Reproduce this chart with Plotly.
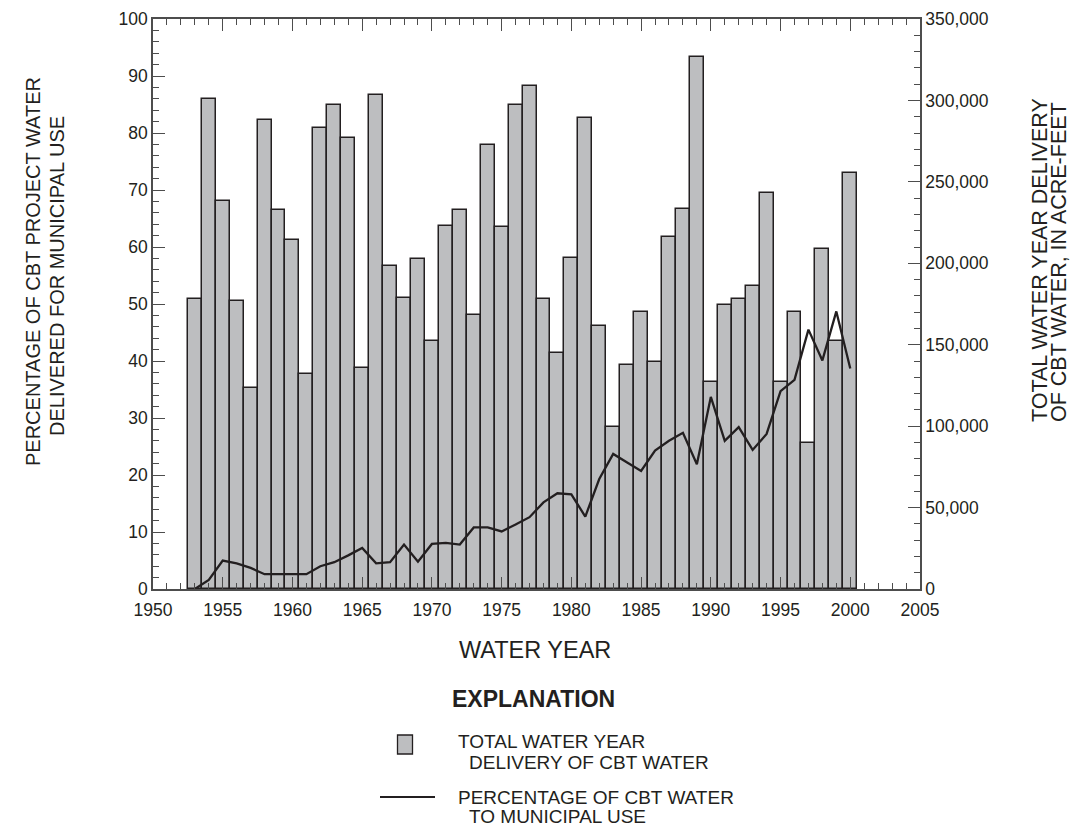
import plotly.graph_objects as go

years = list(range(1953, 2001))

# Total water-year delivery of CBT water, acre-feet
delivery_af = [
    177800, 301000, 238000, 177100, 123200, 287700, 232800, 214200, 132300, 283000,
    297200, 276900, 135800, 303500, 198100, 178500, 202700, 152300, 222600, 232800,
    168000, 272700, 222300, 297500, 309100, 177800, 144900, 203400, 289500, 161400,
    99400, 137600, 169800, 139300, 216000, 233500, 326600, 127100, 174300, 177800,
    185900, 242900, 127100, 169800, 89900, 208600, 152300, 255500,
]

# Percentage of CBT water to municipal use
pct_municipal = [
    0.0, 1.6, 5.0, 4.5, 3.7, 2.6, 2.6, 2.6, 2.6, 4.0,
    4.7, 5.9, 7.2, 4.5, 4.7, 7.8, 4.8, 7.9, 8.1, 7.8,
    10.8, 10.8, 10.1, 11.3, 12.6, 15.2, 16.8, 16.6, 12.7, 19.3,
    23.7, 22.2, 20.7, 24.3, 26.0, 27.4, 21.9, 33.7, 26.0, 28.4,
    24.4, 27.2, 34.7, 36.7, 45.5, 40.1, 48.7, 38.7,
]

FONT = "Liberation Sans, Arial, Helvetica, sans-serif"
INK = "#231f20"
AXC = "#4d4d4d"
BARFILL = "#bdbec0"

fig = go.Figure()
fig.add_trace(go.Bar(
    x=years, y=delivery_af, width=1.0,
    marker=dict(color=BARFILL, line=dict(color=INK, width=1.5)),
    yaxis="y", showlegend=False, name="TOTAL WATER YEAR DELIVERY OF CBT WATER",
))
fig.add_trace(go.Scatter(
    x=years, y=pct_municipal, mode="lines",
    line=dict(color=INK, width=2.3),
    yaxis="y2", showlegend=False, name="PERCENTAGE OF CBT WATER TO MUNICIPAL USE",
))

W, H = 1071, 829
L, T = 153, 19
pw, ph = 767, 570
R, B = W - L - pw, H - T - ph

def px(x):
    return (x - L) / pw

def py(y):
    return (T + ph - y) / ph

TICKF = dict(size=17.5, color=INK, family=FONT)

fig.update_layout(
    width=W, height=H,
    margin=dict(l=L, r=R, t=T, b=B, autoexpand=False),
    paper_bgcolor="white", plot_bgcolor="white",
    font=dict(family=FONT, color=INK, size=17),
    bargap=0,
    xaxis=dict(
        range=[1950, 2005], tickmode="linear", tick0=1950, dtick=5,
        ticks="inside", ticklen=12, tickwidth=1.3, tickcolor=AXC,
        minor=dict(dtick=1, ticks="inside", ticklen=6, tickwidth=1.2, tickcolor=AXC),
        showline=True, linecolor=AXC, linewidth=1.5, mirror="ticks",
        showgrid=False, zeroline=False, automargin=False,
        tickfont=TICKF, ticklabelstandoff=4,
    ),
    yaxis=dict(
        side="right", range=[0, 350000], tickmode="linear", tick0=0, dtick=50000,
        tickformat=",d",
        ticks="inside", ticklen=12, tickwidth=1.3, tickcolor=AXC,
        minor=dict(dtick=10000, ticks="inside", ticklen=6, tickwidth=1.2, tickcolor=AXC),
        showline=True, linecolor=AXC, linewidth=1.5,
        showgrid=False, zeroline=False, automargin=False,
        tickfont=TICKF,
    ),
    yaxis2=dict(
        overlaying="y", side="left", range=[0, 100], tickmode="linear", tick0=0, dtick=10,
        ticks="inside", ticklen=12, tickwidth=1.3, tickcolor=AXC,
        minor=dict(dtick=2, ticks="inside", ticklen=6, tickwidth=1.2, tickcolor=AXC),
        showline=True, linecolor=AXC, linewidth=1.5,
        showgrid=False, zeroline=False, automargin=False,
        tickfont=TICKF,
    ),
)

def note(text, x, y, size, xanchor="left", angle=0):
    return dict(text=text, x=px(x), y=py(y), xref="paper", yref="paper",
                xanchor=xanchor, yanchor="middle", showarrow=False, textangle=angle,
                borderpad=0, font=dict(size=size, color=INK, family=FONT))

# Explanation (legend) drawn as layout decoration
shapes = [
    dict(type="rect", xref="paper", yref="paper",
         x0=px(397.5), x1=px(412.5), y0=py(754), y1=py(735),
         fillcolor=BARFILL, line=dict(color=INK, width=1.3)),
    dict(type="line", xref="paper", yref="paper",
         x0=px(380), x1=px(435), y0=py(797), y1=py(797),
         line=dict(color=INK, width=2)),
]
annotations = [
    note("WATER YEAR", 534.5, 650, 23.5, xanchor="center"),
    note("<b>EXPLANATION</b>", 533, 699, 23, xanchor="center"),
    note("TOTAL WATER YEAR", 457, 741, 19),
    note("DELIVERY OF CBT WATER", 468, 762, 19),
    note("PERCENTAGE OF CBT WATER", 457, 797, 19),
    note("TO MUNICIPAL USE", 468, 816, 19),
    note("PERCENTAGE OF CBT PROJECT WATER", 33, 272, 20, xanchor="center", angle=-90),
    note("DELIVERED FOR MUNICIPAL USE", 57, 276, 20, xanchor="center", angle=-90),
    note("TOTAL WATER YEAR DELIVERY", 1040, 260, 21.5, xanchor="center", angle=-90),
    note("OF CBT WATER, IN ACRE-FEET", 1059, 262, 21.5, xanchor="center", angle=-90),
]
fig.update_layout(shapes=shapes, annotations=annotations)

fig.write_html(
    "out.html",
    config={"displayModeBar": False},
    post_script="document.body.style.margin='0';document.body.style.overflow='hidden';",
)
